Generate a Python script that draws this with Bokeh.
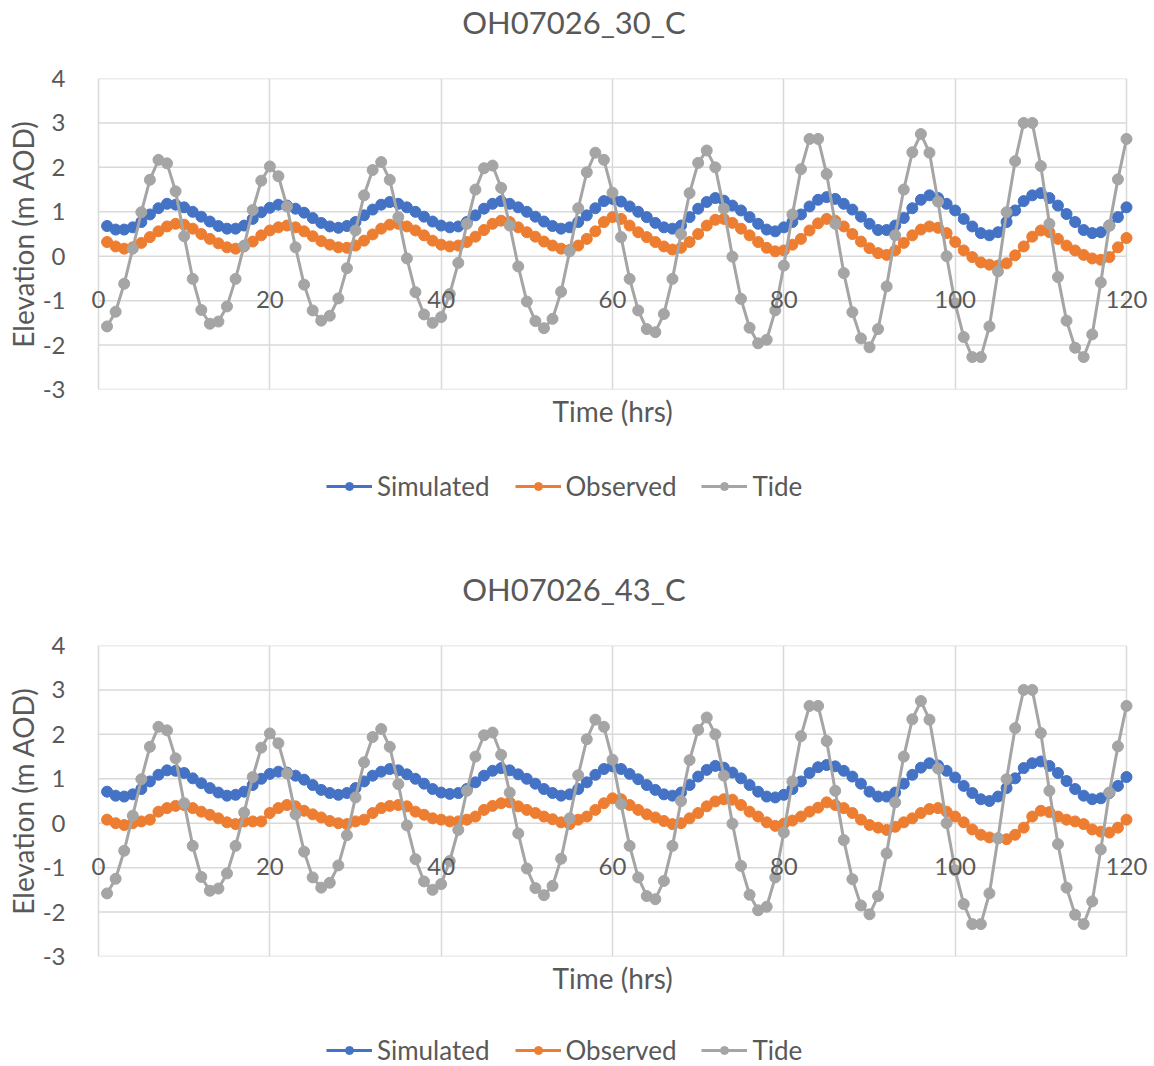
from bokeh.plotting import figure
from bokeh.models import FixedTicker, Legend, LegendItem, Title, Range1d, Label
from bokeh.layouts import column
from bokeh.embed import file_html
from bokeh.resources import INLINE

# ---------------- data ----------------
hours = list(range(1, 121))

tide = [
    -1.58, -1.25, -0.62, 0.17, 0.99, 1.72, 2.17, 2.09, 1.46, 0.45,
    -0.51, -1.21, -1.52, -1.47, -1.13, -0.51, 0.24, 1.04, 1.70, 2.02,
    1.80, 1.12, 0.20, -0.64, -1.22, -1.45, -1.34, -0.95, -0.27, 0.58,
    1.37, 1.94, 2.12, 1.72, 0.88, -0.05, -0.81, -1.31, -1.50, -1.37,
    -0.85, -0.15, 0.73, 1.50, 1.98, 2.04, 1.54, 0.69, -0.23, -1.02,
    -1.46, -1.62, -1.41, -0.80, 0.11, 1.08, 1.89, 2.33, 2.17, 1.43,
    0.43, -0.51, -1.22, -1.64, -1.71, -1.30, -0.51, 0.50, 1.42, 2.10,
    2.38, 2.00, 1.07, -0.01, -0.96, -1.61, -1.96, -1.88, -1.22, -0.21,
    0.94, 1.96, 2.64, 2.64, 1.85, 0.73, -0.38, -1.26, -1.85, -2.05,
    -1.64, -0.68, 0.47, 1.50, 2.34, 2.75, 2.33, 1.23, 0.00, -1.06,
    -1.82, -2.27, -2.27, -1.58, -0.34, 0.99, 2.14, 3.00, 3.00, 2.03,
    0.73, -0.47, -1.45, -2.06, -2.27, -1.76, -0.59, 0.69, 1.73, 2.64,
]

sim_30 = [
    0.68, 0.60, 0.60, 0.65, 0.77, 0.94, 1.08, 1.18, 1.16, 1.10,
    1.00, 0.89, 0.78, 0.68, 0.62, 0.62, 0.69, 0.84, 0.99, 1.09,
    1.16, 1.14, 1.07, 0.98, 0.86, 0.75, 0.67, 0.64, 0.68, 0.77,
    0.92, 1.05, 1.16, 1.22, 1.18, 1.10, 1.00, 0.89, 0.78, 0.69,
    0.65, 0.67, 0.77, 0.92, 1.07, 1.18, 1.24, 1.18, 1.10, 1.00,
    0.89, 0.78, 0.68, 0.62, 0.65, 0.77, 0.92, 1.08, 1.24, 1.29,
    1.23, 1.12, 1.00, 0.88, 0.75, 0.65, 0.62, 0.69, 0.88, 1.07,
    1.22, 1.31, 1.25, 1.14, 1.03, 0.88, 0.73, 0.60, 0.56, 0.65,
    0.77, 0.94, 1.12, 1.27, 1.33, 1.29, 1.18, 1.05, 0.89, 0.73,
    0.59, 0.59, 0.69, 0.86, 1.08, 1.27, 1.37, 1.31, 1.18, 1.03,
    0.84, 0.67, 0.52, 0.47, 0.54, 0.77, 1.03, 1.24, 1.37, 1.42,
    1.31, 1.14, 0.95, 0.77, 0.59, 0.52, 0.54, 0.69, 0.88, 1.10,
]

obs_30 = [
    0.32, 0.22, 0.17, 0.20, 0.30, 0.43, 0.56, 0.67, 0.73, 0.71,
    0.62, 0.50, 0.39, 0.29, 0.20, 0.17, 0.22, 0.33, 0.47, 0.58,
    0.65, 0.69, 0.65, 0.56, 0.45, 0.34, 0.26, 0.20, 0.19, 0.24,
    0.35, 0.49, 0.62, 0.71, 0.73, 0.67, 0.58, 0.47, 0.35, 0.26,
    0.22, 0.24, 0.32, 0.44, 0.59, 0.73, 0.80, 0.77, 0.65, 0.54,
    0.44, 0.33, 0.24, 0.17, 0.14, 0.24, 0.39, 0.56, 0.77, 0.88,
    0.84, 0.69, 0.54, 0.43, 0.32, 0.22, 0.15, 0.19, 0.32, 0.50,
    0.69, 0.82, 0.84, 0.75, 0.62, 0.47, 0.32, 0.19, 0.11, 0.13,
    0.26, 0.39, 0.58, 0.74, 0.84, 0.80, 0.67, 0.50, 0.33, 0.18,
    0.07, 0.03, 0.13, 0.30, 0.47, 0.60, 0.67, 0.64, 0.52, 0.32,
    0.13, -0.02, -0.14, -0.19, -0.21, -0.16, 0.02, 0.22, 0.44, 0.58,
    0.54, 0.39, 0.24, 0.13, 0.03, -0.05, -0.08, -0.02, 0.20, 0.41,
]

sim_43 = [
    0.71, 0.62, 0.60, 0.65, 0.77, 0.94, 1.09, 1.19, 1.18, 1.13,
    1.01, 0.90, 0.79, 0.69, 0.62, 0.64, 0.71, 0.86, 1.00, 1.11,
    1.16, 1.14, 1.07, 0.98, 0.86, 0.75, 0.68, 0.64, 0.68, 0.79,
    0.94, 1.07, 1.16, 1.22, 1.19, 1.10, 1.00, 0.89, 0.77, 0.69,
    0.66, 0.68, 0.77, 0.92, 1.07, 1.18, 1.24, 1.19, 1.10, 1.00,
    0.89, 0.77, 0.68, 0.62, 0.65, 0.77, 0.92, 1.09, 1.22, 1.28,
    1.22, 1.11, 0.99, 0.86, 0.75, 0.65, 0.62, 0.69, 0.86, 1.05,
    1.20, 1.29, 1.25, 1.14, 1.01, 0.86, 0.71, 0.60, 0.58, 0.64,
    0.77, 0.94, 1.13, 1.26, 1.31, 1.28, 1.18, 1.05, 0.89, 0.71,
    0.60, 0.60, 0.69, 0.89, 1.09, 1.25, 1.35, 1.30, 1.18, 1.03,
    0.84, 0.68, 0.54, 0.50, 0.60, 0.79, 1.01, 1.24, 1.35, 1.39,
    1.29, 1.13, 0.95, 0.77, 0.62, 0.54, 0.56, 0.68, 0.84, 1.04,
]

obs_43 = [
    0.08, 0.00, -0.04, 0.00, 0.04, 0.08, 0.26, 0.34, 0.39, 0.41,
    0.34, 0.26, 0.19, 0.11, 0.02, -0.02, 0.04, 0.04, 0.04, 0.23,
    0.34, 0.41, 0.38, 0.28, 0.20, 0.13, 0.05, 0.00, -0.02, 0.04,
    0.08, 0.23, 0.34, 0.39, 0.41, 0.38, 0.26, 0.19, 0.11, 0.08,
    0.04, 0.04, 0.08, 0.15, 0.30, 0.39, 0.45, 0.47, 0.38, 0.30,
    0.23, 0.15, 0.09, 0.02, -0.02, 0.08, 0.15, 0.30, 0.45, 0.56,
    0.54, 0.41, 0.30, 0.20, 0.13, 0.05, -0.02, 0.00, 0.11, 0.23,
    0.38, 0.49, 0.54, 0.53, 0.41, 0.26, 0.15, 0.02, -0.06, -0.01,
    0.06, 0.15, 0.26, 0.35, 0.47, 0.41, 0.34, 0.23, 0.08, -0.04,
    -0.10, -0.15, -0.08, 0.02, 0.11, 0.23, 0.32, 0.34, 0.26, 0.15,
    0.02, -0.14, -0.26, -0.32, -0.34, -0.36, -0.26, -0.10, 0.15, 0.28,
    0.25, 0.15, 0.08, 0.04, -0.02, -0.14, -0.19, -0.21, -0.10, 0.08,
]

x_ticks = [0, 20, 40, 60, 80, 100, 120]
x_tick_labels = ["0", "20", "40", "60", "80", "100", "120"]
y_ticks = [-3, -2, -1, 0, 1, 2, 3, 4]
y_tick_labels = ["-3", "-2", "-1", "0", "1", "2", "3", "4"]

series_names = ["Simulated", "Observed", "Tide"]
series_colors = ["#4472C4", "#ED7D31", "#A5A5A5"]

# ---------------- style / layout ----------------
FONT = "Lato"
TXT = "#595959"
GRID = "#D9D9D9"
W = 1154
PLOT_LEFT, PLOT_RIGHT = 98, 1126      # pixel position of x = 0 and x = 120
FRAME_LEFT, FRAME_RIGHT = 86, 1150    # frame slightly wider so end labels are not cut
PX_PER_HR = (PLOT_RIGHT - PLOT_LEFT) / (x_ticks[-1] - x_ticks[0])


def blank_fig(height):
    f = figure(width=W, height=height, output_backend="svg",
               toolbar_location=None, x_axis_type=None, y_axis_type=None,
               min_border=0, x_range=Range1d(0, 1), y_range=Range1d(0, 1))
    f.outline_line_color = None
    f.background_fill_color = "white"
    f.border_fill_color = "white"
    return f


def make_title(text, height):
    f = blank_fig(height)
    f.add_layout(Label(x=573.5 - FRAME_LEFT, y=height - 21, x_units="screen",
                       y_units="screen", text=text, text_align="center",
                       text_baseline="middle", text_font=FONT,
                       text_font_size="31px", text_color=TXT))
    return f


def make_chart(sim, obs, fig_height, top_border):
    x_range = Range1d(x_ticks[0] - (PLOT_LEFT - FRAME_LEFT) / PX_PER_HR,
                      x_ticks[-1] + (FRAME_RIGHT - PLOT_RIGHT) / PX_PER_HR)
    p = figure(width=W, height=fig_height, output_backend="svg",
               toolbar_location=None, x_range=x_range,
               y_range=Range1d(y_ticks[0], y_ticks[-1]),
               min_border_left=FRAME_LEFT, min_border_right=W - FRAME_RIGHT,
               min_border_top=top_border,
               min_border_bottom=fig_height - top_border - 311)
    p.outline_line_color = None
    p.background_fill_color = "white"
    p.border_fill_color = "white"

    # x axis crossing at y = 0 (as in the spreadsheet chart)
    xa = p.xaxis[0]
    xa.fixed_location = 0
    xa.ticker = FixedTicker(ticks=x_ticks)
    xa.major_label_overrides = {t: l for t, l in zip(x_ticks, x_tick_labels)}
    xa.major_label_text_font = FONT
    xa.major_label_text_font_size = "24px"
    xa.major_label_text_color = TXT
    xa.major_label_standoff = 29
    xa.major_tick_line_color = None
    xa.minor_tick_line_color = None
    xa.axis_line_color = None

    ya = p.yaxis[0]
    ya.ticker = FixedTicker(ticks=y_ticks)
    ya.major_label_overrides = {t: l for t, l in zip(y_ticks, y_tick_labels)}
    ya.major_label_text_font = FONT
    ya.major_label_text_font_size = "24px"
    ya.major_label_text_color = TXT
    ya.major_label_standoff = 15
    ya.major_tick_line_color = None
    ya.minor_tick_line_color = None
    ya.axis_line_color = None
    ya.axis_label = "Elevation (m AOD)"
    ya.axis_label_text_font = FONT
    ya.axis_label_text_font_size = "28px"
    ya.axis_label_text_font_style = "normal"
    ya.axis_label_text_color = TXT
    ya.axis_label_standoff = 0

    # vertical grid from the x ticker; horizontal grid drawn only over 0..120
    p.xgrid.grid_line_color = GRID
    p.xgrid.grid_line_width = 1.5
    p.ygrid.grid_line_color = None
    p.segment(x0=[x_ticks[0]] * len(y_ticks), y0=y_ticks,
              x1=[x_ticks[-1]] * len(y_ticks), y1=y_ticks,
              line_color=GRID, line_width=1.5, level="underlay")

    p.add_layout(Title(text="Time (hrs)", align="left", offset=466,
                       text_font=FONT, text_font_size="28px",
                       text_font_style="normal", text_color=TXT, standoff=5),
                 "below")

    for color, data in zip(series_colors, [sim, obs, tide]):
        p.line(hours, data, line_width=3, line_color=color)
        p.scatter(hours, data, size=11, fill_color=color, line_color=color)
    return p


def make_legend(fig_height, vy):
    f = blank_fig(fig_height)
    nan = float("nan")
    items = []
    for name, color in zip(series_names, series_colors):
        ln = f.line(x=[nan], y=[nan], line_width=3, line_color=color)
        sc = f.scatter(x=[nan], y=[nan], size=11, fill_color=color,
                       line_color=color)
        items.append(LegendItem(label=name, renderers=[ln, sc]))
    leg = Legend(items=items, orientation="horizontal",
                 location=(326 - FRAME_LEFT, vy),
                 border_line_color=None, background_fill_alpha=0,
                 padding=0, margin=0, spacing=25, glyph_width=46,
                 glyph_height=20, label_standoff=5, label_text_font=FONT,
                 label_text_font_size="26px", label_text_color=TXT)
    f.add_layout(leg)
    return f


t1 = make_title("OH07026_30_C", 60)
p1 = make_chart(sim_30, obs_30, 390, 18)
l1 = make_legend(117, 65)
t2 = make_title("OH07026_43_C", 60)
p2 = make_chart(sim_43, obs_43, 388, 18)
l2 = make_legend(51, 0)

layout = column(t1, p1, l1, t2, p2, l2, spacing=0)
open("out.html", "w").write(file_html(layout, INLINE))
